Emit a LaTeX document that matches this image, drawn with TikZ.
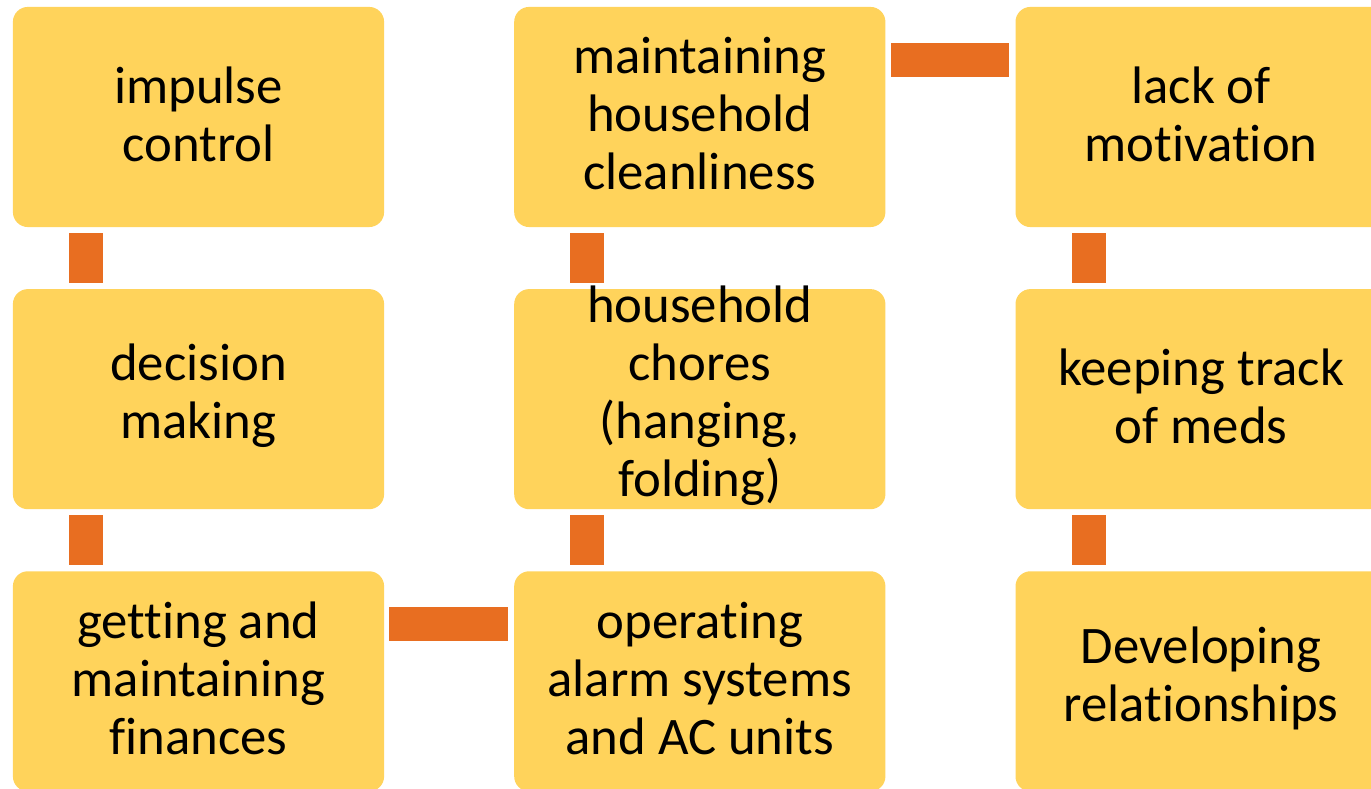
\documentclass[tikz,border=0pt]{standalone}
\usepackage{fontspec}
\setmainfont{Carlito}[Ligatures={NoCommon,NoRare,NoContextual}]
\usetikzlibrary{positioning, calc}
\definecolor{cellyellow}{HTML}{FFD35B}
\definecolor{linkorange}{HTML}{E86E21}

\begin{document}
\begin{tikzpicture}[x=0.01cm, y=-0.01cm,
  cell/.style={fill=cellyellow, rounded corners=0.15cm, minimum width=3.71cm, minimum height=2.2cm, inner sep=0pt, outer sep=0pt},
  celltext/.style={align=center, inner sep=0pt, font=\fontsize{15}{16.5}\selectfont},
  link/.style={draw=linkorange, line width=0.34cm}]
\useasboundingbox (0,0) rectangle (1371,789);
\clip (0,0) rectangle (1371,789);

% boxes
\node[cell] (impulse) at (198.5,117) {};
\node[cell, below=0.62cm of impulse] (decision) {};
\node[cell, below=0.62cm of decision] (finances) {};
\node[cell, right=1.3cm of impulse] (cleanliness) {};
\node[cell, below=0.62cm of cleanliness] (chores) {};
\node[cell, below=0.62cm of chores] (alarm) {};
\node[cell, right=1.3cm of cleanliness] (motivation) {};
\node[cell, below=0.62cm of motivation] (meds) {};
\node[cell, below=0.62cm of meds] (relations) {};

% texts
\node[celltext] (impulse-t) at ([yshift=0.03cm]impulse) {impulse\\control};
\node[celltext] (decision-t) at ([yshift=0.03cm]decision) {decision\\making};
\node[celltext] (finances-t) at ([yshift=0.03cm]finances) {getting and\\maintaining\\f\kern0pt inances};
\node[celltext] (cleanliness-t) at ([yshift=0.03cm]cleanliness) {maintaining\\household\\cleanliness};
\node[celltext] (chores-t) at ([yshift=0.03cm]chores) {household\\chores\\ (hanging,\\folding)};
\node[celltext] (alarm-t) at ([yshift=0.03cm]alarm) {operat\kern0pt ing\\alarm systems\\and AC units};
\node[celltext] (motivation-t) at ([yshift=0.03cm]motivation) {lack of\\motivat\kern0pt ion};
\node[celltext] (meds-t) at ([yshift=0.03cm]meds) {keeping track\\of meds};
\node[celltext] (relations-t) at ([yshift=0.03cm]relations) {Developing\\relat\kern0pt ionships};

% links
\foreach \a/\b in {impulse/decision, decision/finances, cleanliness/chores, chores/alarm, motivation/meds, meds/relations}
  \draw[link] ([xshift=0.73cm, yshift=-0.06cm]\a.south west) -- ([xshift=0.73cm, yshift=0.06cm]\b.north west);
\draw[link] ([xshift=0.05cm, yshift=-0.53cm]finances.north east) -- ([xshift=-0.06cm, yshift=-0.53cm]alarm.north west);
\draw[link] ([xshift=0.06cm, yshift=-0.53cm]cleanliness.north east) -- ([xshift=-0.06cm, yshift=-0.53cm]motivation.north west);
\end{tikzpicture}
\end{document}
